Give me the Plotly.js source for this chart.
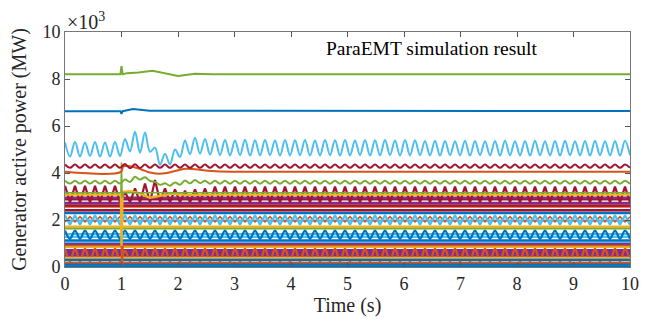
<!DOCTYPE html>
<html>
<head>
<meta charset="utf-8">
<script src="https://cdn.plot.ly/plotly-3.0.1.min.js"></script>
<style>html,body{margin:0;padding:0;background:#fff;}#chart{width:650px;height:322px;}</style>
</head>
<body>
<div id="chart"></div>
<script>
// Values in units of 10^3 MW.
// Sampling times of the oscillating series (half an oscillation period apart, 0..10 s).
const tGrid = Array.from({length: 114}, (_, k) => k * 10 / 113);

const xTicks = [0,1,2,3,4,5,6,7,8,9,10];
const yTicks = [0,2,4,6,8,10];
const yTickText = ['0','2','4','6','8','10'];

// ---- oscillating series, sampled on tGrid ----
const lightBlueMain = [
5.30,4.70,5.32,4.70,5.30,4.72,5.32,4.70,5.30,4.70,5.32,4.72,
5.45,4.92,5.76,4.86,5.72,4.90,5.08,4.35,4.82,4.36,5.00,4.68,5.38,4.80,5.50,4.82,5.45,4.78,5.42,4.76,
5.40,4.75,5.38,4.76,5.41,4.74,5.39,4.75,5.40,4.76,5.38,4.74,5.40,4.75,5.39,4.76,5.40,4.74,5.38,4.75,
5.40,4.76,5.39,4.74,5.40,4.75,5.38,4.76,5.40,4.74,5.39,4.75,5.40,4.76,5.38,4.74,5.40,4.75,5.39,4.76,
5.36,4.75,5.37,4.74,5.36,4.76,5.35,4.75,5.37,4.74,5.36,4.76,5.35,4.75,5.36,4.74,5.37,4.76,5.35,4.75,
5.36,4.74,5.37,4.76,5.35,4.75,5.36,4.74,5.37,4.76,5.35,4.75,5.36,4.74,5.37,4.76,5.35,4.75,5.36,4.74,
5.37,4.76];

const darkRedTop = [
4.36,4.22,4.36,4.22,4.36,4.22,4.36,4.22,4.36,4.22,4.36,4.22,4.38,4.20,4.37,4.21,4.36,4.22,4.36,4.22,
4.36,4.22,4.36,4.22,4.36,4.22,4.36,4.22,4.36,4.22,4.36,4.22,4.36,4.22,4.36,4.22,4.36,4.22,4.36,4.22,
4.36,4.22,4.36,4.22,4.36,4.22,4.36,4.22,4.36,4.22,4.36,4.22,4.36,4.22,4.36,4.22,4.36,4.22,4.36,4.22,
4.36,4.22,4.36,4.22,4.36,4.22,4.36,4.22,4.36,4.22,4.36,4.22,4.36,4.22,4.36,4.22,4.36,4.22,4.36,4.22,
4.36,4.22,4.36,4.22,4.36,4.22,4.36,4.22,4.36,4.22,4.36,4.22,4.36,4.22,4.36,4.22,4.36,4.22,4.36,4.22,
4.36,4.22,4.36,4.22,4.36,4.22,4.36,4.22,4.36,4.22,4.36,4.22,4.36,4.22];

const greenMid = [
3.67,3.55,3.67,3.55,3.67,3.55,3.67,3.55,3.67,3.55,3.67,3.55,
3.72,3.62,3.84,3.72,3.82,3.66,3.62,3.50,3.56,3.46,3.60,3.50,3.68,3.56,3.70,3.57,
3.67,3.54,3.67,3.54,3.67,3.54,3.67,3.54,3.67,3.54,3.67,3.54,3.67,3.54,3.67,3.54,3.67,3.54,3.67,3.54,
3.67,3.54,3.67,3.54,3.67,3.54,3.67,3.54,3.67,3.54,3.67,3.54,3.67,3.54,3.67,3.54,3.67,3.54,3.67,3.54,
3.67,3.54,3.67,3.54,3.67,3.54,3.67,3.54,3.67,3.54,3.67,3.54,3.67,3.54,3.67,3.54,3.67,3.54,3.67,3.54,
3.67,3.54,3.67,3.54,3.67,3.54,3.67,3.54,3.67,3.54,3.67,3.54,3.67,3.54,3.67,3.54,3.67,3.54,3.67,3.54,
3.67,3.54,3.67,3.54,3.67,3.54];

const redPulse = [
3.45,2.75,3.45,2.75,3.45,2.75,3.45,2.75,3.45,2.75,3.45,2.75,
3.20,2.75,3.35,2.75,3.55,2.75,3.70,2.78,3.35,2.75,3.30,2.75,3.25,2.75,3.30,2.75,3.35,2.75,
3.42,2.75,3.42,2.75,3.42,2.75,3.42,2.75,3.42,2.75,3.42,2.75,3.42,2.75,3.42,2.75,3.42,2.75,3.42,2.75,
3.42,2.75,3.42,2.75,3.42,2.75,3.42,2.75,3.42,2.75,3.42,2.75,3.42,2.75,3.42,2.75,3.42,2.75,3.42,2.75,
3.42,2.75,3.42,2.75,3.42,2.75,3.42,2.75,3.42,2.75,3.42,2.75,3.42,2.75,3.42,2.75,3.42,2.75,3.42,2.75,
3.42,2.75,3.42,2.75,3.42,2.75,3.42,2.75,3.42,2.75,3.42,2.75,3.42,2.75,3.42,2.75,3.42,2.75,3.42,2.75,
3.42,2.75,3.42,2.75];

const lightBlueZig = [
2.20,1.80,2.20,1.80,2.20,1.80,2.20,1.80,2.20,1.80,2.20,1.80,2.20,1.80,2.20,1.80,2.20,1.80,2.20,1.80,
2.20,1.80,2.20,1.80,2.20,1.80,2.20,1.80,2.20,1.80,2.20,1.80,2.20,1.80,2.20,1.80,2.20,1.80,2.20,1.80,
2.20,1.80,2.20,1.80,2.20,1.80,2.20,1.80,2.20,1.80,2.20,1.80,2.20,1.80,2.20,1.80,2.20,1.80,2.20,1.80,
2.20,1.80,2.20,1.80,2.20,1.80,2.20,1.80,2.20,1.80,2.20,1.80,2.20,1.80,2.20,1.80,2.20,1.80,2.20,1.80,
2.20,1.80,2.20,1.80,2.20,1.80,2.20,1.80,2.20,1.80,2.20,1.80,2.20,1.80,2.20,1.80,2.20,1.80,2.20,1.80,
2.20,1.80,2.20,1.80,2.20,1.80,2.20,1.80,2.20,1.80,2.20,1.80,2.20,1.80];

const orangeZig = [
1.92,2.14,1.92,2.14,1.92,2.14,1.92,2.14,1.92,2.14,1.92,2.14,1.92,2.14,1.92,2.14,1.92,2.14,1.92,2.14,
1.92,2.14,1.92,2.14,1.92,2.14,1.92,2.14,1.92,2.14,1.92,2.14,1.92,2.14,1.92,2.14,1.92,2.14,1.92,2.14,
1.92,2.14,1.92,2.14,1.92,2.14,1.92,2.14,1.92,2.14,1.92,2.14,1.92,2.14,1.92,2.14,1.92,2.14,1.92,2.14,
1.92,2.14,1.92,2.14,1.92,2.14,1.92,2.14,1.92,2.14,1.92,2.14,1.92,2.14,1.92,2.14,1.92,2.14,1.92,2.14,
1.92,2.14,1.92,2.14,1.92,2.14,1.92,2.14,1.92,2.14,1.92,2.14,1.92,2.14,1.92,2.14,1.92,2.14,1.92,2.14,
1.92,2.14,1.92,2.14,1.92,2.14,1.92,2.14,1.92,2.14,1.92,2.14,1.92,2.14];

const blueZig = [
1.55,1.20,1.55,1.20,1.55,1.20,1.55,1.20,1.55,1.20,1.55,1.20,1.55,1.20,1.55,1.20,1.55,1.20,1.55,1.20,
1.55,1.20,1.55,1.20,1.55,1.20,1.55,1.20,1.55,1.20,1.55,1.20,1.55,1.20,1.55,1.20,1.55,1.20,1.55,1.20,
1.55,1.20,1.55,1.20,1.55,1.20,1.55,1.20,1.55,1.20,1.55,1.20,1.55,1.20,1.55,1.20,1.55,1.20,1.55,1.20,
1.55,1.20,1.55,1.20,1.55,1.20,1.55,1.20,1.55,1.20,1.55,1.20,1.55,1.20,1.55,1.20,1.55,1.20,1.55,1.20,
1.55,1.20,1.55,1.20,1.55,1.20,1.55,1.20,1.55,1.20,1.55,1.20,1.55,1.20,1.55,1.20,1.55,1.20,1.55,1.20,
1.55,1.20,1.55,1.20,1.55,1.20,1.55,1.20,1.55,1.20,1.55,1.20,1.55,1.20];

const orangeArch = [
0.78,0.25,0.78,0.25,0.78,0.25,0.78,0.25,0.78,0.25,0.78,0.25,0.70,0.25,0.78,0.25,0.78,0.25,0.78,0.25,
0.78,0.25,0.78,0.25,0.78,0.25,0.78,0.25,0.78,0.25,0.78,0.25,0.78,0.25,0.78,0.25,0.78,0.25,0.78,0.25,
0.78,0.25,0.78,0.25,0.78,0.25,0.78,0.25,0.78,0.25,0.78,0.25,0.78,0.25,0.78,0.25,0.78,0.25,0.78,0.25,
0.78,0.25,0.78,0.25,0.78,0.25,0.78,0.25,0.78,0.25,0.78,0.25,0.78,0.25,0.78,0.25,0.78,0.25,0.78,0.25,
0.78,0.25,0.78,0.25,0.78,0.25,0.78,0.25,0.78,0.25,0.78,0.25,0.78,0.25,0.78,0.25,0.78,0.25,0.78,0.25,
0.78,0.25,0.78,0.25,0.78,0.25,0.78,0.25,0.78,0.25,0.78,0.25,0.78,0.25];

// ---- slowly varying series, each with its own read-off time points ----
const greenTopT = [0,0.98,1.0,1.02,1.1,1.3,1.55,1.75,2.0,2.3,2.6,10];
const greenTopV = [8.20,8.20,8.55,8.20,8.25,8.28,8.35,8.25,8.13,8.22,8.20,8.20];
const blueTopT = [0,0.98,1.0,1.02,1.2,1.3,1.5,10];
const blueTopV = [6.63,6.63,6.52,6.63,6.72,6.70,6.65,6.64];
const orangeTopT = [0,0.99,1.03,1.1,1.2,1.35,1.5,1.65,1.8,2.0,2.15,2.3,2.6,3.0,10];
const orangeTopV = [4.05,4.05,4.28,4.30,4.27,4.15,4.02,3.97,4.00,4.12,4.18,4.16,4.08,4.05,4.05];
const greenSpikeT = [0,0.99,1.0,1.01,1.02,10];
const greenSpikeV = [3.16,3.16,4.45,2.95,3.16,3.16];
const yellowMidT = [0,0.99,1.0,1.02,1.15,1.3,1.5,1.7,1.9,2.2,2.6,10];
const yellowMidV = [3.08,3.08,0.90,3.20,3.22,3.15,2.95,3.05,3.12,3.06,3.08,3.08];
const orangeSpikeT = [0,0.99,1.0,1.01,1.02,10];
const orangeSpikeV = [0.93,0.93,1.30,0.10,0.93,0.93];

// flat levels of the dense lower bundle
const flatLevels = [2.95, 2.88, 2.72, 2.62, 2.57, 2.42, 2.30, 1.97, 1.72, 1.64, 1.40, 1.28, 1.13, 1.07, 1.00, 0.86, 0.70, 0.60, 0.50, 0.38, 0.30, 0.18, 0.10, 0.03];
const flatColors = ['#7E2F8E','#A2142F','#7E2F8E','#A2142F','#D95319','#A2142F','#0072BD','#4DBEEE','#EDB120','#77AC30','#4DBEEE','#4DBEEE','#0072BD','#4DBEEE','#7E2F8E','#EDB120','#7E2F8E','#7E2F8E','#7E2F8E','#EDB120','#0072BD','#D95319','#0072BD','#0072BD'];

const C = {blue:'#0072BD', orange:'#D95319', yellow:'#EDB120', purple:'#7E2F8E', green:'#77AC30', lblue:'#4DBEEE', dred:'#A2142F'};

function tr(x, y, color, width, shape){
  return {type:'scatter', mode:'lines', x:x, y:y, hoverinfo:'skip',
          line:{color:color, width:width || 2, shape:shape || 'linear', smoothing:1}};
}
const flatT = [0, 10];
const traces = [];
const flat = (v, w) => traces.push(tr(flatT, [v, v], flatColors[flatLevels.indexOf(v)], w));
// bottom bundle first
[0.70,0.60,0.50].forEach(v => flat(v, 3));
traces.push(tr(tGrid, orangeArch, C.orange, 2.3, 'spline'));
[0.38,0.30,0.18,0.10,0.03,0.86].forEach(v => flat(v, 2.3));
traces.push(tr(orangeSpikeT, orangeSpikeV, C.orange, 2.2));
[1.00,1.07,1.13,1.28,1.40].forEach(v => flat(v, 2.3));
traces.push(tr(tGrid, blueZig, C.blue, 2.3, 'spline'));
[1.64,1.72,1.97].forEach(v => flat(v, 2.3));
traces.push(tr(tGrid, orangeZig, C.orange, 1.6));
traces.push(tr(tGrid, lightBlueZig, C.lblue, 2.2));
[2.30,2.42,2.57,2.62,2.72,2.88,2.95].forEach(v => flat(v, 2.5));
traces.push(tr(tGrid, redPulse, C.dred, 2.2));
traces.push(tr(yellowMidT, yellowMidV, C.yellow, 2.4));
traces.push(tr(greenSpikeT, greenSpikeV, C.green, 1.6));
traces.push(tr(tGrid, greenMid, C.green, 2, 'spline'));
traces.push(tr(orangeTopT, orangeTopV, C.orange, 2, 'spline'));
traces.push(tr(tGrid, darkRedTop, C.dred, 2, 'spline'));
traces.push(tr(tGrid, lightBlueMain, C.lblue, 2, 'spline'));
traces.push(tr(blueTopT, blueTopV, C.blue, 2));
traces.push(tr(greenTopT, greenTopV, C.green, 2));

const serif = "'Liberation Serif', 'Times New Roman', serif";
const axisCommon = {
  range:[0,10], ticks:'inside', ticklen:5, tickwidth:1, tickcolor:'#555',
  showline:true, linecolor:'#777', linewidth:1, mirror:'ticks',
  showgrid:false, zeroline:false, fixedrange:true,
  tickfont:{family:serif, size:18, color:'#262626'}
};
const layout = {
  width:650, height:322,
  margin:{l:65, r:20, t:32, b:55},
  paper_bgcolor:'#ffffff', plot_bgcolor:'#ffffff',
  showlegend:false,
  font:{family:serif, color:'#262626', size:18},
  xaxis:Object.assign({}, axisCommon, {
    tickvals:xTicks, ticktext:xTicks.map(String),
    title:{text:'Time (s)', font:{family:serif, size:20, color:'#262626'}, standoff:5}
  }),
  yaxis:Object.assign({}, axisCommon, {
    tickvals:yTicks, ticktext:yTickText,
    title:{text:'Generator active power (MW)', font:{family:serif, size:20, color:'#262626'}, standoff:10}
  }),
  annotations:[
    {text:'×10<sup>3</sup>', xref:'paper', yref:'paper', x:0, y:1, xanchor:'left', yanchor:'bottom',
     yshift:-3, showarrow:false, font:{family:serif, size:20, color:'#262626'}},
    {text:'ParaEMT simulation result', xref:'x', yref:'y', x:6.48, y:9.28, xanchor:'center', yanchor:'middle',
     showarrow:false, font:{family:serif, size:19.5, color:'#000'}}
  ]
};
Plotly.newPlot('chart', traces, layout, {displayModeBar:false, staticPlot:true});
</script>
</body>
</html>
